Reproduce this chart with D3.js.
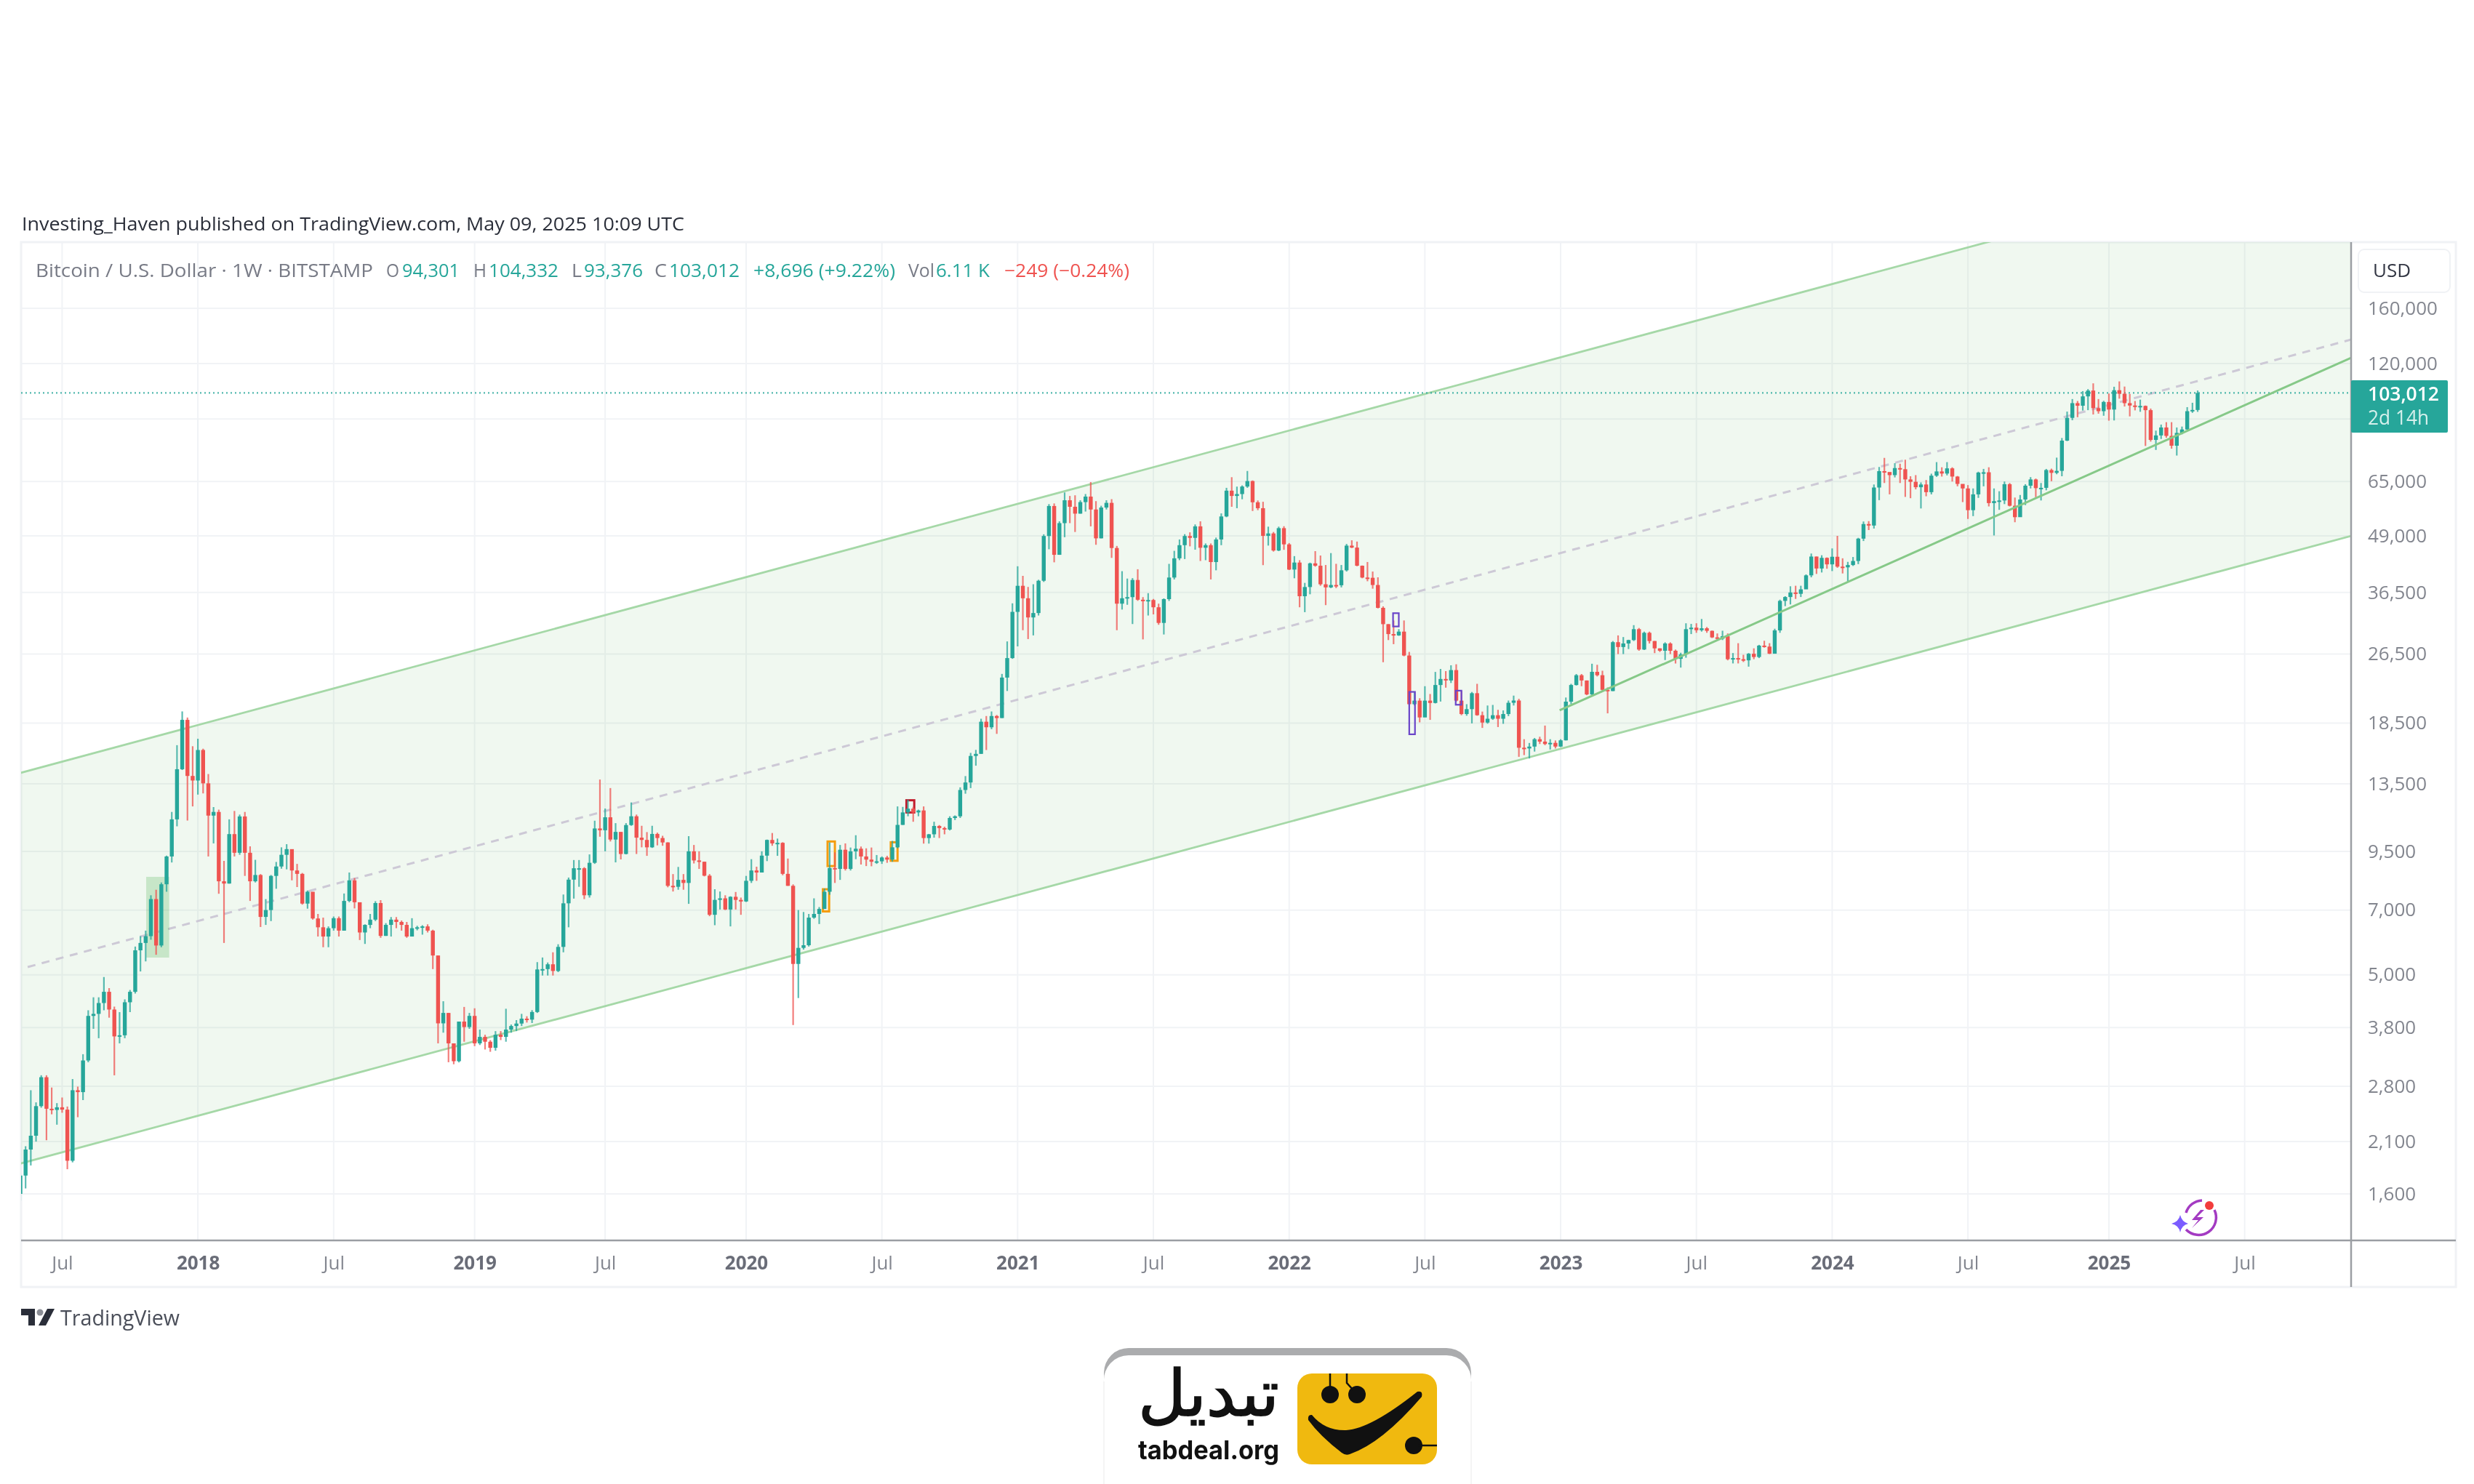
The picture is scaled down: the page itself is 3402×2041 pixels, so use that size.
<!DOCTYPE html>
<html>
<head>
<meta charset="utf-8">
<script src="https://d3js.org/d3.v7.min.js"></script>
<style>
  html, body { margin: 0; padding: 0; background: #fff; }
  text { font-family: "Open Sans", sans-serif; }
</style>
</head>
<body>
<script>
// weekly BTCUSD, first bar is the week of May 8 2017
var weekCloses = [
  1760,2015,2165,2525,2935,2491,2476,2510,2480,1901,
  2743,2716,3202,4037,4080,4317,4576,4173,3629,3650,
  4334,4576,5678,5900,6112,7412,5822,8005,9250,11220,
  14560,18820,14060,13730,16090,13530,11440,11660,8130,8035,
  10390,9430,11390,9430,8130,8400,6755,7000,8360,8780,
  9330,9610,8600,8450,7240,7700,6700,6400,6100,6370,
  6710,6290,7340,8170,7290,6230,6480,6660,7260,6120,
  6480,6660,6580,6480,6100,6370,6400,6430,6290,5527,
  3884,4100,3500,3190,3920,3810,4037,3500,3620,3530,
  3420,3660,3620,3760,3830,3880,3980,3960,4120,5140,
  5150,5280,5100,5780,7250,8200,8700,8700,7560,8950,
  10700,10600,11340,10100,10510,9370,10890,11400,10200,10080,
  9700,10400,10180,9950,7940,7900,8190,8060,9500,9060,
  9000,8370,6830,7380,7440,7020,7500,7380,7320,8150,
  8600,8510,9290,10080,9900,9930,8450,7940,5290,5750,
  5830,6730,6860,7040,7700,8710,8670,9580,8670,9500,
  9630,9250,9100,9000,9020,9200,9100,9700,10900,11630,
  11860,11630,11750,10180,10380,10840,10720,10640,11300,11400,
  13070,13590,15600,15770,18640,18110,19200,19000,23450,25950,
  33000,37790,35420,32060,32800,38800,48960,57230,44400,52350,
  58960,57000,55000,58400,60100,56200,48370,56770,58170,46000,
  34440,35420,35630,38950,35150,34950,35100,33800,31160,35260,
  39450,43600,46680,48960,48490,51480,46060,46680,42760,48090,
  54200,61980,60300,60900,63320,65150,58350,56580,49000,49620,
  45400,51000,46880,41120,42650,35800,37550,42470,41950,38090,
  37480,37950,37900,40960,46570,46100,41950,39450,39400,37950,
  33700,30960,29400,29200,29780,26300,20420,20800,19060,20800,
  20550,22560,23280,23100,24380,20800,19400,19900,21620,19280,
  18560,18930,19280,18930,19400,20570,20810,16280,16220,16380,
  17020,16810,16600,16700,16380,16920,20690,22560,23740,23100,
  21480,24160,23740,22000,21860,28190,27490,28000,28500,30160,
  27130,29600,28360,27300,26960,28000,26960,25850,26450,30160,
  30400,30000,30300,29900,28900,28700,29070,25800,25950,25800,
  25650,26540,26100,27690,27550,26550,29970,34940,35650,36500,
  36250,37100,39900,44000,41350,43700,42250,43950,41750,41600,
  42100,43000,48300,52100,51700,63000,68600,68300,67200,69700,
  69300,65700,64900,63100,64000,61500,67000,68500,67750,69600,
  66700,64200,62700,56000,60800,68100,68200,58100,58700,58900,
  64100,57300,54000,59200,63600,65700,62800,62900,69000,68000,
  68700,80400,90500,97700,96400,101200,104300,95200,93700,98300,
  94500,104500,102600,97700,96500,96100,96300,94200,80700,82600,
  86100,82400,78300,83700,85200,93700,94301,103012
];
var weekHighs = [
  1777,2050,2743,2575,2965,2965,2782,2565,2641,2520,
  2907,2795,3308,4157,4447,4447,4942,4665,4237,4117,
  4400,4620,5790,6112,6290,7560,7780,8080,9290,11660,
  16500,19666,19050,16410,17060,16200,14200,11960,11800,9040,
  11220,11720,11500,11660,9750,9090,8440,7410,8400,8990,
  9700,9860,9600,8900,8490,7750,7640,6860,6730,6430,
  6770,6770,7630,8510,8270,7120,6500,6860,7330,7370,
  6540,6750,6750,6630,6580,6710,6450,6470,6500,6320,
  5527,4357,4100,3500,3920,4230,4100,4200,3760,3660,
  3560,3730,3730,4190,3860,3950,4080,4030,4160,5340,
  5470,5330,5620,5860,7590,8290,9080,9080,8750,9350,
  11140,13800,11870,13200,11000,10500,11000,12250,11500,10850,
  10500,10850,10470,10300,9960,8440,8760,8440,10280,9820,
  9500,9000,8440,7800,7710,7560,7520,7690,7470,8360,
  9120,8770,9500,10100,10450,10150,9960,9150,8000,7000,
  6930,6860,7440,7110,7830,9950,9450,9820,9900,9690,
  10330,9740,9650,9690,9320,9250,9280,10030,12000,11970,
  12430,11970,11800,12000,10400,11080,10890,10800,11400,11450,
  13250,14050,15850,16100,18930,19200,19660,19300,23900,28300,
  34500,41830,39800,37570,38100,39000,49400,57790,58000,52850,
  61400,60300,60500,58960,60900,64800,58700,57300,58960,59300,
  46500,40780,39240,39330,41190,35630,36370,35300,34440,35400,
  42360,45330,48090,49430,49900,52000,52850,47100,47100,48560,
  55070,62900,66480,63300,63700,68660,65370,58900,58500,51400,
  50000,51400,51520,47200,44100,43180,38370,42630,45260,44240,
  42110,44800,42370,42110,46980,47880,47570,42000,42770,40700,
  39500,33960,30960,31560,30160,31560,26800,21720,21060,22420,
  21530,24150,24530,24250,25000,25130,21890,20420,21760,22700,
  19650,20280,20340,19830,19770,20810,21350,21000,17020,16690,
  17130,17240,18270,17020,16910,17020,21140,22700,23890,23890,
  23100,25200,25060,24300,22280,28360,29200,28950,28550,30800,
  30350,29780,29780,28360,27300,28170,28170,27130,26680,31100,
  31000,31100,31800,30500,29950,29500,29920,29500,26640,28040,
  26400,26640,27300,27800,28400,28040,30230,35160,35800,37700,
  37800,37800,40100,44700,44000,44300,43800,45900,49000,43600,
  42800,43900,48500,52800,52900,64000,70100,73500,68000,71500,
  71300,72800,66800,67200,64700,65500,67700,71900,70000,71900,
  70000,66900,63400,63800,62700,68400,69400,70000,62700,61800,
  65000,64500,59800,60600,64100,66500,66000,64500,69400,69500,
  73600,81500,93500,99800,98800,104000,105100,108300,99800,98900,
  102700,106400,109400,106500,102500,98800,99500,96500,95000,84700,
  87400,88500,88500,86100,86500,95700,97900,104332
];
var weekLows = [
  1545,1646,1855,2100,2505,2115,2420,2293,2440,1819,
  1885,2384,2606,3173,3775,3595,4157,4000,2964,3500,
  3595,4117,4535,5087,5360,6000,5548,5770,7700,8965,
  10820,14500,11150,12000,12760,12840,9250,9900,7620,5900,
  8030,9250,9330,8360,7340,8080,6410,6480,6610,7820,
  8680,8650,8170,7890,7200,7050,6660,6100,5770,5770,
  6290,6100,6290,7290,7060,5990,5870,6370,6610,6060,
  6120,6100,6370,6290,6060,6100,6300,6160,6230,5150,
  3500,3700,3173,3140,3170,3530,3775,3450,3470,3390,
  3350,3370,3560,3530,3700,3730,3830,3900,3890,4100,
  4980,4980,4980,5070,5620,6400,7430,7900,7410,7470,
  8900,10250,9500,10000,8970,9110,9350,10850,9370,9700,
  9280,9670,9800,9780,7880,7710,7780,7780,7230,8920,
  8670,8340,6780,6470,7020,7000,6430,7020,6830,7300,
  8060,8150,8510,9030,9780,9280,8390,7940,3850,4430,
  5700,5790,6690,6510,7040,7580,8060,8190,8600,8600,
  9120,8870,8800,8790,8900,8900,8950,9000,9650,10900,
  11400,11080,11400,9890,9890,10200,10180,10380,10590,11180,
  11300,12820,13200,14830,15770,16090,17930,17500,19000,21870,
  25850,27580,30000,28650,29200,32380,38560,45700,42700,44400,
  48660,52350,50000,55000,55600,51480,46780,48370,56200,43700,
  30000,33400,34240,30980,34950,28600,32380,32570,30860,29340,
  34930,39060,43180,43430,46400,45600,43000,43180,39060,40960,
  46680,53990,57000,56580,59270,62900,55760,56000,42080,46580,
  45150,45260,45570,41020,39300,33800,32950,36160,41740,37800,
  34180,37340,37340,37480,40700,45980,41840,39300,38700,37230,
  33600,25400,28500,27900,29130,26200,20340,20290,18580,19100,
  18820,20500,20700,22250,22800,20690,19280,19230,18480,19230,
  18050,18450,18820,18130,18440,19190,20280,15530,15670,15400,
  15960,16600,16500,16130,16220,16340,16910,20430,22500,22420,
  21400,21350,23590,21860,19470,21860,26500,26500,27200,28360,
  26960,27060,28000,26630,26790,25690,26500,25230,24700,26000,
  29400,29600,29780,29600,28800,28540,28500,25650,25240,25240,
  25430,24820,25800,25950,27400,26500,26800,29600,34000,34300,
  35300,35650,37300,39500,40200,40500,41300,40800,41500,40300,
  38500,41900,42300,47700,50500,50900,59000,64500,60800,66400,
  64500,60000,59600,62400,56500,60200,60800,66600,66700,67100,
  65000,63400,58400,53500,54300,59700,63400,57100,49100,56100,
  57800,57100,52600,54600,57500,62700,59900,58900,62100,65100,
  67500,66800,80200,89400,90800,94000,94200,92100,92500,91500,
  89200,89300,100000,96000,91200,94100,93400,78200,80000,76600,
  81100,81600,77100,74400,83100,85100,92900,93376
];
var firstOpen = 1600;
var lastPrice = 103012;

var priceTicks = [160000,120000,65000,49000,36500,26500,18500,13500,9500,7000,5000,3800,2800,2100,1600];
var hiddenGridPrices = [90000];   // grid line only, its label sits under the price tag

var weekTicks = [8,34,60,87,112,139,165,191,217,243,269,295,321,347,373,400,426];
var weekTickLabels = ["Jul","2018","Jul","2019","Jul","2020","Jul","2021","Jul","2022","Jul","2023","Jul","2024","Jul","2025","Jul"];

// drawings, [week index, price] pairs
var channelTop = [[0,14280],[446.4,376000]];
var channelBottom = [[0,1873],[446.4,48990]];
var channelMid = [[1.4,5206],[446.4,136000]];
var trendLine = [[294.8,19780],[446.4,123700]];

// [first week, last week, top price, bottom price]
var greenBoxes = [[24.1,28.5,8320,5467]];
var orangeBoxes = [[153.7,154.9,7800,6950],[154.6,156,10000,8800],[166.7,168,9960,9045]];
var redBoxes = [[169.7,171.2,12390,11630]];
var purpleBoxes = [[262.9,264,32780,30590],[266,267.1,21770,17460],[274.9,276,21910,20360]];

var legendTexts = ["Bitcoin / U.S. Dollar · 1W · BITSTAMP","O","94,301","H","104,332","L","93,376","C","103,012","+8,696 (+9.22%)","Vol","6.11 K","−249 (−0.24%)"];
var legendColors = ["#787b86","#787b86","#26a69a","#787b86","#26a69a","#787b86","#26a69a","#787b86","#26a69a","#26a69a","#787b86","#26a69a","#ef5350"];
var legendLeft = [49,531,553,651,672,786,803,900,920,1036,1249,1287,1381];
var legendWidth = [464,18,79,18,96,14,81,17,97,195,36,74,172];

var width = 3402, height = 2041;
var plot = { left: 29, right: 3233, top: 333, bottom: 1706, outerRight: 3377, outerBottom: 1770 };
var up = "#26a69a", down = "#ef5350";

var x = d3.scaleLinear().domain([0, 417]).range([28, 3022]);
var y = d3.scaleLog().domain([1600, 160000]).range([1642, 424]);

// the reference is a soft upscaled screenshot
var svg = d3.select("body").append("svg")
  .attr("width", width).attr("height", height)
  .style("display", "block")
  .style("filter", "blur(0.7px)");

svg.append("clipPath").attr("id", "plotClip").append("rect")
  .attr("x", plot.left).attr("y", plot.top)
  .attr("width", plot.right - plot.left).attr("height", plot.bottom - plot.top);

// title above the frame
svg.append("text").attr("x", 30).attr("y", 317)
  .attr("font-size", 26).attr("font-weight", 500).attr("fill", "#2a2e39")
  .attr("textLength", 911).attr("lengthAdjust", "spacingAndGlyphs")
  .text("Investing_Haven published on TradingView.com, May 09, 2025 10:09 UTC");

// grid
var grid = svg.append("g").attr("stroke", "#f1f3f6").attr("stroke-width", 2);
grid.selectAll("line.h").data(priceTicks.concat(hiddenGridPrices)).join("line")
  .attr("class", "h").attr("x1", plot.left).attr("x2", plot.right)
  .attr("y1", function(d) { return y(d); }).attr("y2", function(d) { return y(d); });
grid.selectAll("line.v").data(weekTicks).join("line")
  .attr("class", "v").attr("y1", plot.top).attr("y2", plot.bottom)
  .attr("x1", function(d) { return x(d); }).attr("x2", function(d) { return x(d); });

// outer frame
svg.append("rect").attr("x", plot.left).attr("y", plot.top)
  .attr("width", plot.outerRight - plot.left).attr("height", plot.outerBottom - plot.top)
  .attr("fill", "none").attr("stroke", "#f0f2f5").attr("stroke-width", 3);

var chart = svg.append("g").attr("clip-path", "url(#plotClip)");
var linePath = d3.line().x(function(d) { return x(d[0]); }).y(function(d) { return y(d[1]); });

// channel fill and lines
chart.append("path")
  .attr("d", linePath(channelTop.concat(channelBottom.slice().reverse())) + "Z")
  .attr("fill", "#4caf50").attr("fill-opacity", 0.085);
chart.append("path").attr("d", linePath(channelMid))
  .attr("fill", "none").attr("stroke", "#cdc9d6").attr("stroke-width", 3).attr("stroke-dasharray", "11 9");
chart.selectAll("path.channel").data([channelTop, channelBottom]).join("path")
  .attr("class", "channel").attr("d", linePath)
  .attr("fill", "none").attr("stroke", "#a5d8a7").attr("stroke-width", 2.8);

// last price line
chart.append("line").attr("x1", plot.left).attr("x2", plot.right)
  .attr("y1", y(lastPrice)).attr("y2", y(lastPrice))
  .attr("stroke", up).attr("stroke-opacity", 0.8).attr("stroke-width", 2.2).attr("stroke-dasharray", "2 4");

function drawBoxes(parent, boxes, fill, stroke, strokeWidth) {
  parent.selectAll(null).data(boxes).join("rect")
    .attr("x", function(d) { return x(d[0]); })
    .attr("width", function(d) { return x(d[1]) - x(d[0]); })
    .attr("y", function(d) { return y(d[2]); })
    .attr("height", function(d) { return y(d[3]) - y(d[2]); })
    .attr("fill", fill).attr("stroke", stroke).attr("stroke-width", strokeWidth);
}
drawBoxes(chart, greenBoxes, "rgba(76,175,80,0.25)", "none", 0);
drawBoxes(chart, orangeBoxes, "none", "#f59d0e", 3);
drawBoxes(chart, redBoxes, "none", "#c21c2c", 3);

// candles
var weekOpens = [firstOpen].concat(weekCloses.slice(0, -1));
var candles = chart.append("g").selectAll("g").data(d3.range(weekCloses.length)).join("g")
  .attr("fill", function(i) { return weekCloses[i] >= weekOpens[i] ? up : down; })
  .attr("stroke", function(i) { return weekCloses[i] >= weekOpens[i] ? up : down; });
candles.append("line")
  .attr("x1", function(i) { return x(i); }).attr("x2", function(i) { return x(i); })
  .attr("y1", function(i) { return y(weekHighs[i]); }).attr("y2", function(i) { return y(weekLows[i]); })
  .attr("stroke-width", 2.2).attr("stroke-opacity", 0.75);
candles.append("rect")
  .attr("stroke", "none")
  .attr("x", function(i) { return x(i) - 2.7; }).attr("width", 5.4)
  .attr("y", function(i) { return y(Math.max(weekOpens[i], weekCloses[i])); })
  .attr("height", function(i) { return Math.max(2, Math.abs(y(weekOpens[i]) - y(weekCloses[i]))); });

// trend line over the candles, purple boxes too
chart.append("path").attr("d", linePath(trendLine))
  .attr("fill", "none").attr("stroke", "#86c988").attr("stroke-width", 3);
drawBoxes(chart, purpleBoxes, "none", "#6a45c9", 2.2);

// axes
var yAxis = d3.axisRight(y).tickValues(priceTicks).tickFormat(d3.format(",")).tickSize(0).tickPadding(23);
var yg = svg.append("g").attr("transform", "translate(" + plot.right + ",0)").call(yAxis);
yg.select(".domain").remove();
yg.selectAll("text").attr("font-size", 26).attr("font-weight", 500).attr("fill", "#83868f").style("font-family", '"Open Sans", sans-serif');

var xAxis = d3.axisBottom(x).tickValues(weekTicks)
  .tickFormat(function(d) { return weekTickLabels[weekTicks.indexOf(d)]; })
  .tickSize(0).tickPadding(22);
var xg = svg.append("g").attr("transform", "translate(0," + plot.bottom + ")").call(xAxis);
xg.select(".domain").remove();
xg.selectAll("text").attr("font-size", 26).style("font-family", '"Open Sans", sans-serif')
  .attr("fill", function(d, i) { return weekTickLabels[i] === "Jul" ? "#83868f" : "#6a6d78"; })
  .attr("font-weight", function(d, i) { return weekTickLabels[i] === "Jul" ? 500 : 700; });

svg.append("line").attr("x1", plot.right).attr("x2", plot.right)
  .attr("y1", plot.top).attr("y2", plot.outerBottom)
  .attr("stroke", "#9b9ea3").attr("stroke-width", 2.5);
svg.append("line").attr("x1", plot.left).attr("x2", plot.outerRight)
  .attr("y1", plot.bottom).attr("y2", plot.bottom)
  .attr("stroke", "#9b9ea3").attr("stroke-width", 2.5);

// legend row
svg.append("g").selectAll("text").data(legendTexts).join("text")
  .attr("x", function(d, i) { return legendLeft[i]; })
  .attr("y", 381).attr("font-size", 25).attr("font-weight", 500)
  .attr("fill", function(d, i) { return legendColors[i]; })
  .attr("textLength", function(d, i) { return legendWidth[i]; })
  .attr("lengthAdjust", "spacingAndGlyphs")
  .text(function(d) { return d; });

// USD box
svg.append("rect").attr("x", 3243).attr("y", 343).attr("width", 126).attr("height", 59).attr("rx", 8)
  .attr("fill", "#fff").attr("stroke", "#f0f2f5").attr("stroke-width", 2);
svg.append("text").attr("x", 3263).attr("y", 381).attr("font-size", 26).attr("font-weight", 500).attr("fill", "#333744").text("USD");

// price tag
svg.append("rect").attr("x", plot.right).attr("y", 523).attr("width", 133).attr("height", 72).attr("rx", 2)
  .attr("fill", up);
svg.append("text").attr("x", 3256).attr("y", 551).attr("font-size", 27).attr("font-weight", 600).attr("fill", "#fff")
  .attr("textLength", 98).attr("lengthAdjust", "spacingAndGlyphs")
  .text(d3.format(",")(lastPrice));
svg.append("text").attr("x", 3256).attr("y", 584).attr("font-size", 27).attr("font-weight", 500).attr("fill", "#d6f0ec")
  .attr("textLength", 84).attr("lengthAdjust", "spacingAndGlyphs").text("2d 14h");

// TradingView mark and name
var tv = svg.append("g").attr("fill", "#2a2e39");
tv.append("path").attr("d", "M29 1800h19v23h-9v-14h-10z");
tv.append("circle").attr("cx", 55).attr("cy", 1805).attr("r", 4.5).attr("fill", "#8b8e96");
tv.append("path").attr("d", "M65 1800h10l-12 23h-10z");
svg.append("text").attr("x", 83).attr("y", 1823).attr("font-size", 29).attr("font-weight", 500).attr("fill", "#4a4e59")
  .attr("textLength", 164).attr("lengthAdjust", "spacingAndGlyphs").text("TradingView");

// little assistant icon, bottom right of the plot
var icon = svg.append("g");
icon.append("path").attr("d", "M3006 1668A24 24 0 0 1 3028 1651").attr("fill", "none").attr("stroke", "#a33bc2").attr("stroke-width", 3.5);
icon.append("path").attr("d", "M3045 1664A24 24 0 0 1 3006 1691").attr("fill", "none").attr("stroke", "#a33bc2").attr("stroke-width", 3.5);
icon.append("path").attr("d", "M3026 1664l-12 14h9l-9 11 16-15h-9l10-10z").attr("fill", "#a33bc2");
icon.append("path").attr("d", "M2998 1671q2 9 11 12q-9 2-11 12q-2-10-12-12q10-3 12-12z").attr("fill", "#7b5cff");
icon.append("circle").attr("cx", 3038).attr("cy", 1658).attr("r", 6).attr("fill", "#f23d3d");

// tabdeal card at the bottom
var card = svg.append("g");
card.append("path").attr("d", "M1518 1900v-12a34 34 0 0 1 34-34h437a34 34 0 0 1 34 34v12a34 34 0 0 0-34-36h-437a34 34 0 0 0-34 36z").attr("fill", "#abacae");
card.append("line").attr("x1", 1518).attr("x2", 1518).attr("y1", 1900).attr("y2", 2041).attr("stroke", "#f0f0f0").attr("stroke-width", 1.5);
card.append("line").attr("x1", 2023).attr("x2", 2023).attr("y1", 1900).attr("y2", 2041).attr("stroke", "#f0f0f0").attr("stroke-width", 1.5);
card.append("rect").attr("x", 1784).attr("y", 1889).attr("width", 192).attr("height", 125).attr("rx", 20).attr("fill", "#f0b90f");
card.append("circle").attr("cx", 1829).attr("cy", 1918).attr("r", 12).attr("fill", "#111");
card.append("circle").attr("cx", 1866).attr("cy", 1918).attr("r", 12).attr("fill", "#111");
card.append("circle").attr("cx", 1944).attr("cy", 1988).attr("r", 12).attr("fill", "#111");
card.append("path").attr("d", "M1829 1889v20M1852 1889v13l9 10M1950 1988h26").attr("fill", "none").attr("stroke", "#111").attr("stroke-width", 2.5);
card.append("path").attr("d", "M1804 1946Q1822 1968 1851 1967Q1885 1965 1949 1914Q1957 1912 1955 1921Q1900 1985 1856 2000Q1850 2002 1845 1998Q1815 1975 1799 1953Q1798 1945 1804 1946Z").attr("fill", "#111");
card.append("text").attr("x", 1565).attr("y", 1947).attr("font-size", 88)
  .style("font-family", '"DejaVu Sans", sans-serif').attr("fill", "#111").attr("stroke", "#111").attr("stroke-width", 1.6)
  .attr("textLength", 194).attr("lengthAdjust", "spacingAndGlyphs").text("تبدیل");
card.append("text").attr("x", 1565).attr("y", 2007).attr("font-size", 36).attr("font-weight", 700)
  .style("font-family", 'Inter, sans-serif')
  .attr("fill", "#111").attr("textLength", 194).attr("lengthAdjust", "spacingAndGlyphs").text("tabdeal.org");
</script>
</body>
</html>
